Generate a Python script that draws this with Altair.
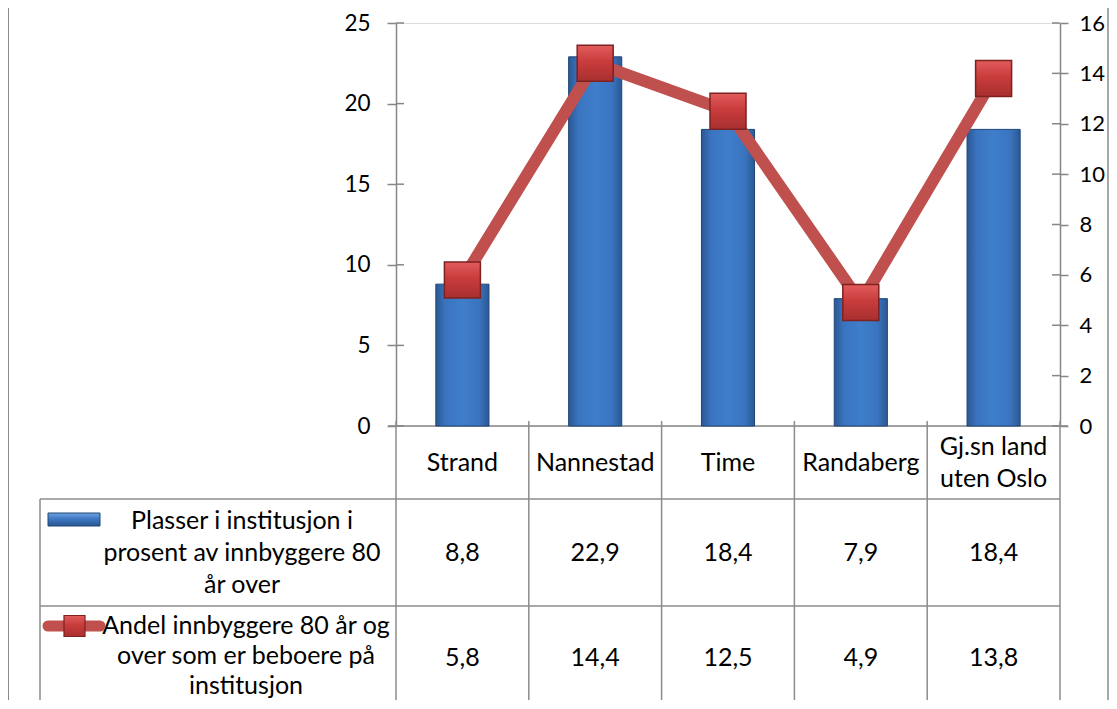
import altair as alt
import pandas as pd

# ---------------- data ----------------
categories = ["Strand", "Nannestad", "Time", "Randaberg", "Gj.sn land uten Oslo"]
header_labels = ["Strand", "Nannestad", "Time", "Randaberg", "Gj.sn land|uten Oslo"]
plasser = [8.8, 22.9, 18.4, 7.9, 18.4]
andel = [5.8, 14.4, 12.5, 4.9, 13.8]
series_names = [
    "Plasser i institusjon i|prosent av innbyggere 80|år over",
    "Andel innbyggere 80 år og|over som er beboere på|institusjon",
]
left_ticks = [0, 5, 10, 15, 20, 25]
right_ticks = [0, 2, 4, 6, 8, 10, 12, 14, 16]

df = pd.DataFrame({
    "cat": categories,
    "header": header_labels,
    "p": plasser,
    "a": andel,
    "p_label": [f"{v:.1f}".replace(".", ",") for v in plasser],
    "a_label": [f"{v:.1f}".replace(".", ",") for v in andel],
})
lt_df = pd.DataFrame({"p": left_ticks})
rt_df = pd.DataFrame({"a": right_ticks})

# ---------------- layout helpers ----------------
W, H = 664, 403
OX, OY = 396, 23          # plot origin on the page
FONT = "Lato"
FS = 25
AFS = 22.5
GRID = "#8c8c8c"
AXC = "#868686"


def px(x):
    return x - OX


def py(y):
    return y - OY


one = alt.Data(values=[{"k": 0}])

xscale = alt.Scale(type="band", paddingInner=0.6, paddingOuter=0.3)


def xenc(center=False):
    if center:
        return alt.X("cat:N", sort=categories, scale=xscale, axis=None, title=None,
                     bandPosition=0.5)
    return alt.X("cat:N", sort=categories, scale=xscale, axis=None, title=None)


def hrule(x1, x2, y, color=GRID, w=1.5):
    return alt.Chart(one).mark_rule(color=color, strokeWidth=w).encode(
        x=alt.value(px(x1)), x2=alt.value(px(x2)), y=alt.value(py(y)))


def vrule(x, y1, y2, color=GRID, w=1.5):
    return alt.Chart(one).mark_rule(color=color, strokeWidth=w).encode(
        x=alt.value(px(x)), y=alt.value(py(y1)), y2=alt.value(py(y2)))


# ---------------- frame / table lines ----------------
step = W / len(categories)
lines = [
    hrule(8, 1109, 7, "#8a8a8a", 2),      # outer top border
    vrule(8, 7, 720, "#8a8a8a", 2),       # outer left border
    vrule(1108, 7, 720, "#8a8a8a", 1.5),  # outer right border (page edge)
    hrule(388, 1068, 426, AXC, 1.5),      # category axis line
    hrule(40, OX + W, 499),               # table rows
    hrule(40, OX + W, 606),
    vrule(40, 499, 720),                  # legend column left edge
]
for i in range(len(categories) + 1):
    lines.append(vrule(OX + i * step, 421, 720))

# ---------------- bars (left axis) ----------------
bar_grad = alt.Gradient(
    gradient="linear", x1=0, x2=1, y1=0, y2=0,
    stops=[alt.GradientStop(color="#2b5893", offset=0),
           alt.GradientStop(color="#3a74bf", offset=0.18),
           alt.GradientStop(color="#3f7ecb", offset=0.5),
           alt.GradientStop(color="#3a74bf", offset=0.82),
           alt.GradientStop(color="#2b5893", offset=1)])

yleft = alt.Y("p:Q", scale=alt.Scale(domain=[0, 25], nice=False),
              axis=alt.Axis(orient="left", values=left_ticks, title=None, grid=False,
                            tickSize=9, labelPadding=17, domainColor=AXC, tickColor=AXC,
                            domainWidth=1.5, tickWidth=1.5,
                            labelFont=FONT, labelFontSize=AFS, labelColor="black"))

bars = alt.Chart(df).mark_bar(fill=bar_grad, stroke="#1f4677", strokeWidth=1).encode(
    x=xenc(), y=yleft)

left_inner_ticks = alt.Chart(lt_df).mark_tick(
    orient="horizontal", size=8, thickness=1.5, color=AXC, opacity=1).encode(
    x=alt.value(4), y=yleft)

left_layer = alt.layer(bars, left_inner_ticks)

# ---------------- line + markers (right axis) ----------------
yright = alt.Y("a:Q", scale=alt.Scale(domain=[0, 16], nice=False),
               axis=alt.Axis(orient="right", values=right_ticks, title=None, grid=False,
                             tickSize=8, labelPadding=11, domainColor=AXC, tickColor=AXC,
                             domainWidth=1.5, tickWidth=1.5,
                             labelFont=FONT, labelFontSize=22, labelColor="black"))

right_inner_ticks = alt.Chart(rt_df).mark_tick(
    orient="horizontal", size=8, thickness=1.5, color=AXC, opacity=1).encode(
    x=alt.value(W - 4), y=yright)

line = alt.Chart(df).mark_line(color="#c0504d", strokeWidth=12).encode(
    x=xenc(True), y=yright)

mark_grad = alt.Gradient(
    gradient="linear", x1=0, x2=0, y1=0, y2=1,
    stops=[alt.GradientStop(color="#e25c5c", offset=0),
           alt.GradientStop(color="#c93c3c", offset=0.45),
           alt.GradientStop(color="#a82f2f", offset=1)])

points = alt.Chart(df).mark_square(size=1296, fill=mark_grad, stroke="#7c2222",
                                   strokeWidth=1.5, opacity=1).encode(
    x=xenc(True), y=yright)

right_layer = alt.layer(right_inner_ticks, line, points)

# ---------------- table text ----------------
tstyle = dict(font=FONT, fontSize=FS, color="black", lineBreak="|", lineHeight=32,
              baseline="middle", align="center")

header_one = alt.Chart(df).mark_text(**tstyle).encode(
    x=xenc(True), y=alt.value(py(463)), text="header:N"
).transform_filter("indexof(datum.header, '|') < 0")

header_two = alt.Chart(df).mark_text(**tstyle).encode(
    x=xenc(True), y=alt.value(py(447)), text="header:N"
).transform_filter("indexof(datum.header, '|') >= 0")

p_txt = alt.Chart(df).mark_text(**tstyle).encode(
    x=xenc(True), y=alt.value(py(553)), text="p_label:N")

a_txt = alt.Chart(df).mark_text(**tstyle).encode(
    x=xenc(True), y=alt.value(py(658)), text="a_label:N")

name1 = alt.Chart(alt.Data(values=[{"t": series_names[0]}])).mark_text(**tstyle).encode(
    x=alt.value(px(242)), y=alt.value(py(521)), text="t:N")

name2 = alt.Chart(alt.Data(values=[{"t": series_names[1]}])).mark_text(
    **{**tstyle, "lineHeight": 30}).encode(
    x=alt.value(px(246)), y=alt.value(py(626)), text="t:N")

# ---------------- legend symbols in the table ----------------
leg_bar = alt.Chart(one).mark_rect(
    fill=alt.Gradient(gradient="linear", x1=0, x2=0, y1=0, y2=1,
                      stops=[alt.GradientStop(color="#6fa3e0", offset=0),
                             alt.GradientStop(color="#3a74bf", offset=0.5),
                             alt.GradientStop(color="#2b5893", offset=1)]),
    stroke="#1f4677", strokeWidth=1).encode(
    x=alt.value(px(48)), x2=alt.value(px(100)),
    y=alt.value(py(513)), y2=alt.value(py(526)))

leg_line = alt.Chart(one).mark_rule(color="#c0504d", strokeWidth=11,
                                    strokeCap="round").encode(
    x=alt.value(px(48)), x2=alt.value(px(100)), y=alt.value(py(626)))

leg_sq = alt.Chart(one).mark_square(size=441, fill=mark_grad, stroke="#7c2222",
                                    strokeWidth=1.2, opacity=1).encode(
    x=alt.value(px(74.5)), y=alt.value(py(626)))

chart = alt.layer(
    *lines, left_layer, right_layer, header_one, header_two, p_txt, a_txt,
    name1, name2, leg_bar, leg_line, leg_sq,
).resolve_scale(y="independent").properties(
    width=W, height=H,
    padding={"left": 388, "top": 15, "right": 49, "bottom": 274},
    autosize=alt.AutoSizeParams(type="none"),
).configure_view(stroke=None).configure(background="white")

chart.save("out.html", embed_options={"renderer": "svg", "actions": False})
